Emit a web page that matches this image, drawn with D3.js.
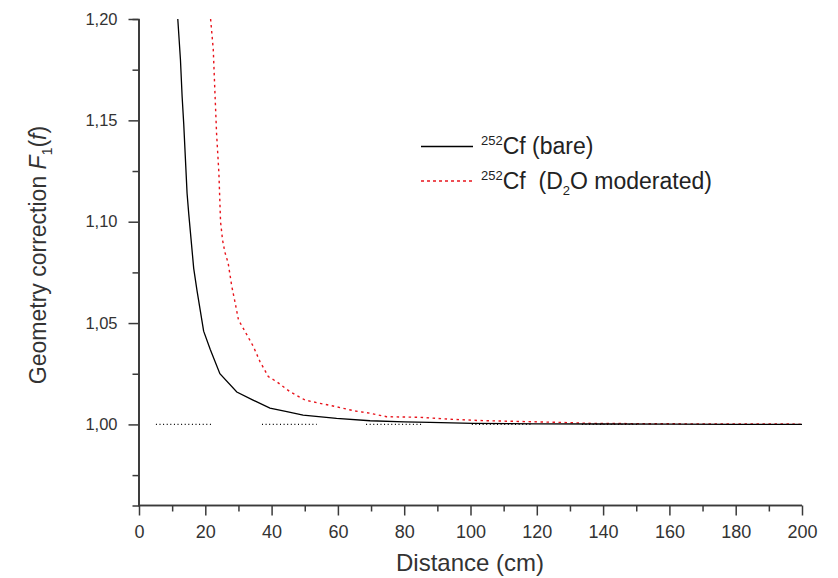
<!DOCTYPE html>
<html>
<head>
<meta charset="utf-8">
<script src="https://cdn.jsdelivr.net/npm/d3@7"></script>
<style>
body { margin: 0; background: #fff; }
svg { display: block; font-family: "Liberation Sans", Arial, sans-serif; }
</style>
</head>
<body>
<svg width="838" height="578"></svg>
<script>
// bare source
var bareX = [11.7, 12.5, 13, 13.5, 14, 14.5, 15, 15.5, 16, 16.5, 17.5, 18.5, 19.5, 21.5, 24.4, 29.5, 34.4, 39.5, 44.6, 49.5, 59.6, 69.7, 80, 87.8, 100.8, 120, 140, 160, 180, 200];
var bareY = [1.200, 1.180, 1.162, 1.148, 1.131, 1.114, 1.104, 1.095, 1.086, 1.077, 1.066, 1.056, 1.046, 1.037, 1.025, 1.016, 1.012, 1.008, 1.0063, 1.0046, 1.003, 1.0018, 1.0013, 1.001, 1.0005, 1.0003, 1.0002, 1.0001, 1.0, 1.0];

// D2O moderated
var modX = [21.6, 22.4, 22.9, 23.4, 24.1, 24.6, 25.2, 25.9, 26.9, 28, 29, 30, 32, 34.5, 36.5, 39, 41.5, 45.5, 50.1, 54.6, 59.6, 64.6, 69.7, 74.7, 84.8, 94.7, 102.9, 127, 137, 160, 197, 200];
var modY = [1.200, 1.185, 1.164, 1.1435, 1.124, 1.100, 1.091, 1.085, 1.0796, 1.068, 1.060, 1.0516, 1.0458, 1.0384, 1.031, 1.0236, 1.0211, 1.0162, 1.012, 1.0104, 1.0087, 1.0068, 1.0055, 1.0038, 1.0035, 1.0025, 1.0019, 1.001, 1.0005, 1.0003, 1.0002, 1.0];

// dotted reference pieces at 1,00 (cm)
var refStart = [5.1, 37.1, 68.5, 100.4, 133.6];
var refEnd = [22, 53.6, 85.3, 118.4, 150.6];

var xTicks = [0, 20, 40, 60, 80, 100, 120, 140, 160, 180, 200];
var xMinor = [10, 30, 50, 70, 90, 110, 130, 150, 170, 190];
var yTicks = [1.00, 1.05, 1.10, 1.15, 1.20];
var yMinor = [0.975, 1.025, 1.075, 1.125, 1.175];

var svg = d3.select("svg");
var x = d3.scaleLinear().domain([0, 200]).range([139, 802]);
var y = d3.scaleLinear().domain([0.96, 1.20]).range([505.5, 19]);
var axisColor = "#3a3a3a";

var fmt = function(d) { return d3.format(".2f")(d).replace(".", ","); };

// x axis
var gx = svg.append("g").attr("transform", "translate(0,505.5)");
gx.call(d3.axisBottom(x).tickValues(xTicks).tickSize(10).tickSizeOuter(0).tickPadding(6));
gx.append("g").call(d3.axisBottom(x).tickValues(xMinor).tickSize(6).tickFormat(""));
gx.selectAll("path.domain").attr("d", "M" + (x(0) - 1) + ",0H" + x(200));

// y axis
var gy = svg.append("g").attr("transform", "translate(138.5,0)");
gy.call(d3.axisLeft(y).tickValues(yTicks).tickSize(10).tickSizeOuter(0).tickPadding(11).tickFormat(fmt));
gy.append("g").call(d3.axisLeft(y).tickValues(yMinor).tickSize(6).tickFormat(""));

svg.selectAll(".domain").attr("stroke", axisColor).attr("stroke-width", 1.7);
svg.selectAll(".tick line").attr("stroke", axisColor).attr("stroke-width", 1.5);
svg.selectAll(".tick text").attr("fill", "#333");
gy.selectAll(".tick text").style("font-size", "16.5px");
gx.selectAll(".tick text").style("font-size", "18px").attr("dy", "0.9em");

// reference dotted line
svg.append("g").selectAll("line")
  .data(refStart)
  .enter().append("line")
  .attr("x1", function(d) { return x(d); })
  .attr("x2", function(d, i) { return x(refEnd[i]); })
  .attr("y1", y(1.0)).attr("y2", y(1.0))
  .attr("stroke", "#000")
  .attr("stroke-width", 1.2)
  .attr("stroke-dasharray", "1,2.6");

var line = d3.line()
  .x(function(d) { return x(d[0]); })
  .y(function(d) { return y(d[1]); });

svg.append("clipPath").attr("id", "clip")
  .append("rect").attr("x", 139).attr("y", 18).attr("width", 664).attr("height", 488);

svg.append("path")
  .datum(d3.zip(modX, modY))
  .attr("clip-path", "url(#clip)")
  .attr("d", line)
  .attr("fill", "none")
  .attr("stroke", "#e8141c")
  .attr("stroke-width", 1.4)
  .attr("stroke-dasharray", "2.5,3.5");

svg.append("path")
  .datum(d3.zip(bareX, bareY))
  .attr("clip-path", "url(#clip)")
  .attr("d", line)
  .attr("fill", "none")
  .attr("stroke", "#000")
  .attr("stroke-width", 1.3);

// axis titles
svg.append("text")
  .attr("x", 470).attr("y", 571)
  .attr("text-anchor", "middle")
  .attr("fill", "#333")
  .style("font-size", "24px")
  .text("Distance (cm)");

var yt = svg.append("text")
  .attr("transform", "translate(46,255) rotate(-90)")
  .attr("text-anchor", "middle")
  .attr("fill", "#333")
  .style("font-size", "23px");
yt.append("tspan").text("Geometry correction ");
yt.append("tspan").style("font-style", "italic").text("F");
yt.append("tspan").attr("dy", 6).style("font-size", "14px").text("1");
yt.append("tspan").attr("dy", -6).text("(");
yt.append("tspan").style("font-style", "italic").text("f");
yt.append("tspan").text(")");

// legend
var leg = svg.append("g");
leg.append("line").attr("x1", 421).attr("x2", 473).attr("y1", 146.5).attr("y2", 146.5)
  .attr("stroke", "#000").attr("stroke-width", 1.3);
leg.append("line").attr("x1", 421).attr("x2", 473).attr("y1", 181).attr("y2", 181)
  .attr("stroke", "#e8141c").attr("stroke-width", 1.3).attr("stroke-dasharray", "3,3");

var t1 = leg.append("text").attr("x", 481).attr("y", 153.5).attr("fill", "#222").style("font-size", "23px");
t1.append("tspan").attr("dy", -9).style("font-size", "13px").text("252");
t1.append("tspan").attr("dy", 9).text("Cf (bare)");

var t2 = leg.append("text").attr("x", 481).attr("y", 188.5).attr("fill", "#222").style("font-size", "23px");
t2.append("tspan").attr("dy", -9).style("font-size", "13px").text("252");
t2.append("tspan").attr("dy", 9).text("Cf\u00a0\u00a0(D");
t2.append("tspan").attr("dy", 6).style("font-size", "13px").text("2");
t2.append("tspan").attr("dy", -6).text("O moderated)");
</script>
</body>
</html>
